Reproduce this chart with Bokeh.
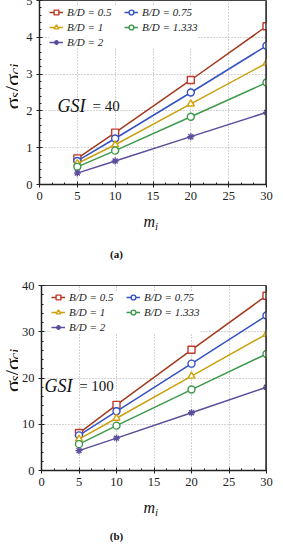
import math
from bokeh.plotting import figure
from bokeh.models import (Range1d, SingleIntervalTicker, Label, Legend, LegendItem, Span)
from bokeh.layouts import column, row
from bokeh.embed import file_html
from bokeh.resources import INLINE

# ---------------- data ----------------
m_i = [5, 10, 20, 30]
bd_labels = ["B/D = 0.5", "B/D = 0.75", "B/D = 1", "B/D = 1.333", "B/D = 2"]

gsi40_bd05 = [0.71, 1.41, 2.84, 4.30]
gsi40_bd075 = [0.64, 1.25, 2.50, 3.77]
gsi40_bd1 = [0.57, 1.08, 2.19, 3.30]
gsi40_bd1333 = [0.48, 0.92, 1.84, 2.77]
gsi40_bd2 = [0.31, 0.64, 1.30, 1.96]

gsi100_bd05 = [8.1, 14.2, 26.1, 37.8]
gsi100_bd075 = [7.6, 12.8, 23.1, 33.5]
gsi100_bd1 = [6.8, 11.3, 20.4, 29.5]
gsi100_bd1333 = [5.7, 9.7, 17.5, 25.2]
gsi100_bd2 = [4.3, 7.0, 12.5, 18.0]

x_ticks_interval = 5
line_colors = ["#A23B1E", "#3552C2", "#C9A10F", "#3D9A4B", "#5B4C9C"]
marker_colors = ["#C0392B", "#3552C2", "#D4A20A", "#3D9A4B", "#5B4C9C"]
markers = ["square", "circle", "triangle", "circle", "asterisk"]

FONT = "Liberation Serif"
PAGE_X0 = 0
PAGE_X1 = 283
YLAB_X1 = 26           # right edge (page x) of the y-label strip
FRAME_L = 47           # page x of frame left
FRAME_R = 274
KX = (FRAME_R - FRAME_L) / 30.0
TXT = "#111111"


def text_strip(x0, x1, y0, y1):
    """A plain figure whose frame covers the whole strip; data coords == page px."""
    f = figure(width=x1 - x0, height=y1 - y0, x_range=Range1d(x0, x1),
               y_range=Range1d(y1, y0), output_backend="svg", toolbar_location=None,
               x_axis_type=None, y_axis_type=None,
               min_border_left=0, min_border_right=0, min_border_top=0, min_border_bottom=0)
    f.outline_line_color = None
    f.background_fill_color = "white"
    f.border_fill_color = "white"
    f.xgrid.visible = False
    f.ygrid.visible = False
    return f


def make_block(series, y_end, y_int, top, main_bottom, block_bottom, frame_top, frame_bottom,
               gsi_val, gsi_pos, legend_top, ylab_start, mlab_base, cap, cap_base):
    ky = (frame_bottom - frame_top) / y_end
    p = figure(width=PAGE_X1 - YLAB_X1, height=main_bottom - top,
               x_range=Range1d(0, 30), y_range=Range1d(0, y_end),
               output_backend="svg", toolbar_location=None,
               min_border_left=FRAME_L - YLAB_X1, min_border_right=PAGE_X1 - FRAME_R,
               min_border_top=frame_top - top, min_border_bottom=main_bottom - frame_bottom)
    p.background_fill_color = "white"
    p.border_fill_color = "white"
    p.outline_line_color = "#444444"
    p.outline_line_width = 1

    def dx(sx):
        return (sx - FRAME_L) / KX

    def dy(sy):
        return (frame_bottom - sy) / ky

    p.xaxis.ticker = SingleIntervalTicker(interval=x_ticks_interval, num_minor_ticks=3)
    p.yaxis.ticker = SingleIntervalTicker(interval=y_int, num_minor_ticks=5)
    for ax in (p.xaxis[0], p.yaxis[0]):
        ax.axis_line_color = "#222222"
        ax.axis_line_width = 1.5
        ax.major_tick_line_color = "#222222"
        ax.minor_tick_line_color = "#222222"
        ax.major_tick_in = 3
        ax.major_tick_out = 3
        ax.minor_tick_in = 2
        ax.minor_tick_out = 0
        ax.major_label_text_font = FONT
        ax.major_label_text_font_size = "12.5px"
        ax.major_label_text_color = "#222222"
        ax.major_label_standoff = 4
    for g in (p.xgrid[0], p.ygrid[0]):
        g.grid_line_color = "#a8a8a8"
        g.grid_line_dash = "1 2"
        g.grid_line_width = 1

    items = []
    for ys, lab, lc, mc, mk in zip(series, bd_labels, line_colors, marker_colors, markers):
        lr = p.line(m_i, ys, line_color=lc, line_width=1.5)
        sr = p.scatter(m_i, ys, marker=mk, size=7, line_color=mc, fill_color="white",
                       line_width=1.4)
        items.append(LegendItem(label=lab, renderers=[lr, sr]))

    leg = Legend(items=items, orientation="horizontal", ncols=2,
                 glyph_width=14, glyph_height=12, label_height=12, label_width=54,
                 label_standoff=4, spacing=3, padding=2, margin=0,
                 border_line_color=None, background_fill_color="white",
                 background_fill_alpha=1.0,
                 label_text_font=FONT, label_text_font_style="italic",
                 label_text_font_size="11px", label_text_color="#222222")
    leg_h = 2 * 2 + 3 * 12 + 2 * 3
    leg.location = (10, frame_bottom - (legend_top + leg_h))
    p.add_layout(leg)

    p.add_layout(Span(location=30, dimension="height", line_color="#333333", line_width=2.5))

    # GSI annotation
    gx, gy = gsi_pos
    p.add_layout(Label(x=dx(gx), y=dy(gy), text="GSI", text_font=FONT, text_font_style="italic",
                       text_font_size="18px", text_color=TXT, text_baseline="alphabetic"))
    p.add_layout(Label(x=dx(gx + 35), y=dy(gy), text="= " + gsi_val, text_font=FONT,
                       text_font_size="15px", text_color=TXT, text_baseline="alphabetic"))

    # y-label strip: sigma_s / sigma_ci, rotated
    ys_fig = text_strip(PAGE_X0, YLAB_X1, top, main_bottom)
    pieces = [("σ", 22, 20.0, 13.0), ("s", 15, 22.5, 7.0), ("/", 22, 20.0, 7.5),
              ("σ", 22, 20.0, 13.0), ("ci", 15, 22.5, 11.0)]
    sy = ylab_start
    for txt, fs, bx, adv in pieces:
        ys_fig.add_layout(Label(x=bx, y=sy, text=txt, text_font=FONT,
                                text_font_style="italic" if fs < 20 else "normal",
                                text_font_size=f"{fs}px", text_color=TXT,
                                angle=math.pi / 2, text_align="left",
                                text_baseline="alphabetic"))
        sy -= adv

    # bottom strip: m_i and caption
    bs_fig = text_strip(PAGE_X0, PAGE_X1, main_bottom, block_bottom)
    bs_fig.add_layout(Label(x=151, y=mlab_base, text="m", text_font=FONT,
                            text_font_style="italic", text_font_size="16px", text_color=TXT,
                            text_baseline="alphabetic"))
    bs_fig.add_layout(Label(x=162.5, y=mlab_base + 4, text="i", text_font=FONT,
                            text_font_style="italic", text_font_size="11px", text_color=TXT,
                            text_baseline="alphabetic"))
    bs_fig.add_layout(Label(x=124, y=cap_base, text=cap, text_font=FONT,
                            text_font_style="bold", text_font_size="11px", text_color=TXT,
                            text_align="center", text_baseline="alphabetic"))

    return column(row(ys_fig, p, spacing=0), bs_fig, spacing=0)


b1 = make_block([gsi40_bd05, gsi40_bd075, gsi40_bd1, gsi40_bd1333, gsi40_bd2],
                5, 1, top=0, main_bottom=215, block_bottom=270, frame_top=8, frame_bottom=192,
                gsi_val="40", gsi_pos=(65, 113), legend_top=10, ylab_start=127,
                mlab_base=229, cap="(a)", cap_base=261)
b2 = make_block([gsi100_bd05, gsi100_bd075, gsi100_bd1, gsi100_bd1333, gsi100_bd2],
                40, 10, top=270, main_bottom=501, block_bottom=550, frame_top=293,
                frame_bottom=478, gsi_val="100", gsi_pos=(50, 393), legend_top=295,
                ylab_start=403, mlab_base=515, cap="(b)", cap_base=543)

# pull the layout over the page's 8px body margin so it lines up with the full window
layout = column(b1, b2, spacing=0, margin=(-8, -8, -8, -8))
open("out.html", "w").write(file_html(layout, INLINE))
